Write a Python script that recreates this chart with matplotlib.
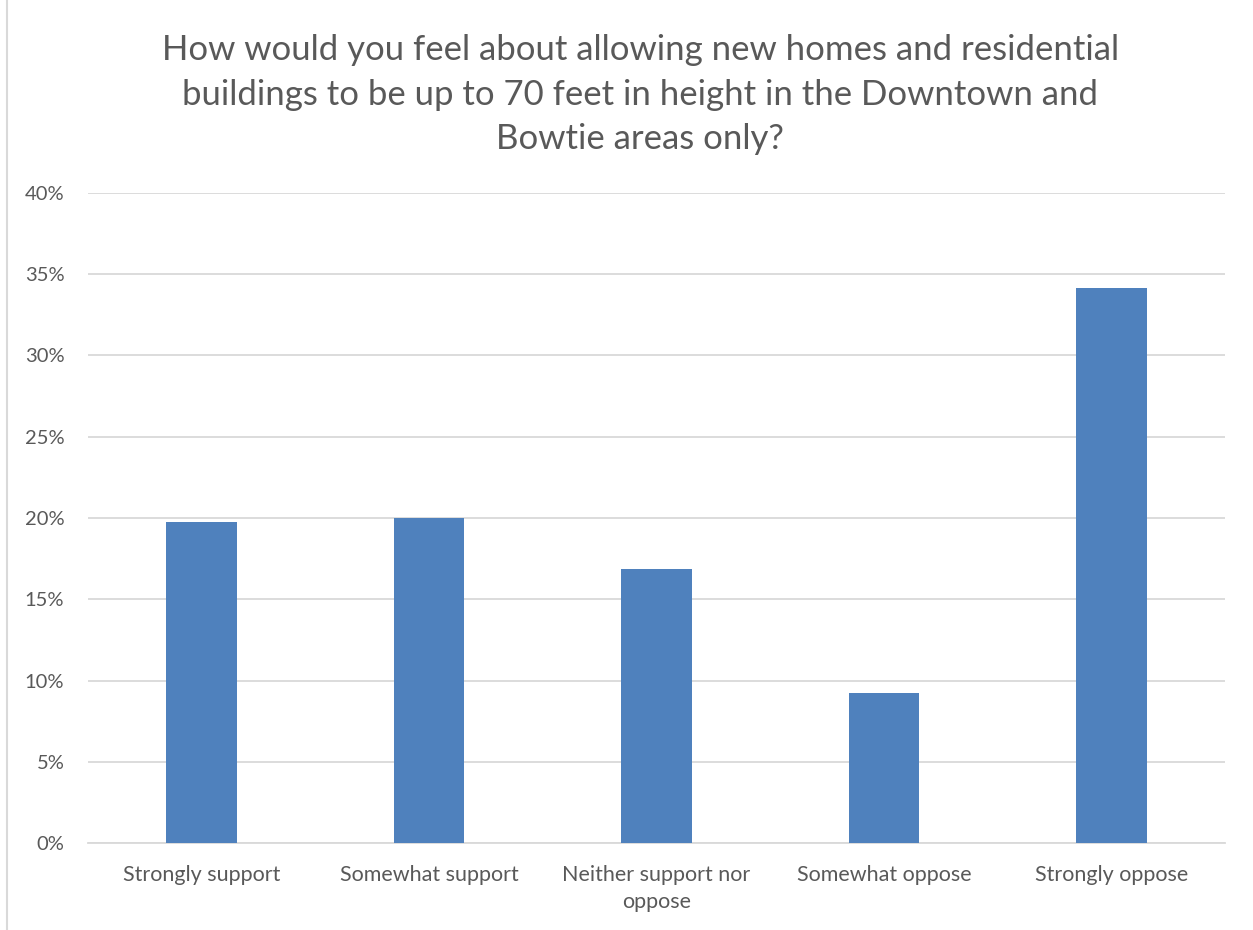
import numpy as np
import matplotlib.pyplot as plt
from matplotlib.ticker import PercentFormatter, MultipleLocator

categories = ["Strongly support", "Somewhat support", "Neither support nor\noppose",
              "Somewhat oppose", "Strongly oppose"]
shares = [19.73, 19.98, 16.84, 9.22, 34.15]

title = ("How would you feel about allowing new homes and residential\n"
         "buildings to be up to 70 feet in height in the Downtown and\n"
         "Bowtie areas only?")

grey = "#595959"
plt.rcParams['font.family'] = ['Lato', 'DejaVu Sans']

fig = plt.figure(figsize=(12.53, 9.30), dpi=100)
ax = fig.add_axes([0.0702, 0.0935, 0.9075, 0.699])

x = np.arange(len(categories))
ax.bar(x, shares, width=0.31, color="#4F81BD", zorder=3)

ax.set_xlim(-0.5, len(categories) - 0.5)
ax.set_ylim(0, 40)
ax.yaxis.set_major_locator(MultipleLocator(5))
ax.yaxis.set_major_formatter(PercentFormatter(decimals=0))
ax.grid(axis="y", color="#d9d9d9", linewidth=1.3, zorder=0)

ax.set_xticks(x)
ax.set_xticklabels(categories, multialignment="center", linespacing=1.45)
ax.tick_params(axis="both", length=0, colors=grey)
ax.tick_params(axis="x", pad=16, labelsize=15.5)
ax.tick_params(axis="y", pad=17, labelsize=14.5)

for side in ["top", "right", "left"]:
    ax.spines[side].set_visible(False)
ax.spines["bottom"].set_color("#d9d9d9")
ax.spines["bottom"].set_linewidth(1.3)

fig.text(0.511, 0.963, title, ha="center", va="top", fontsize=25,
         color=grey, linespacing=1.47)

# thin frame edge on the left
fig.add_artist(plt.Line2D([0.0056, 0.0056], [0, 1], color="#d9d9d9", linewidth=1.5))

fig.savefig("out.png", dpi=100)
